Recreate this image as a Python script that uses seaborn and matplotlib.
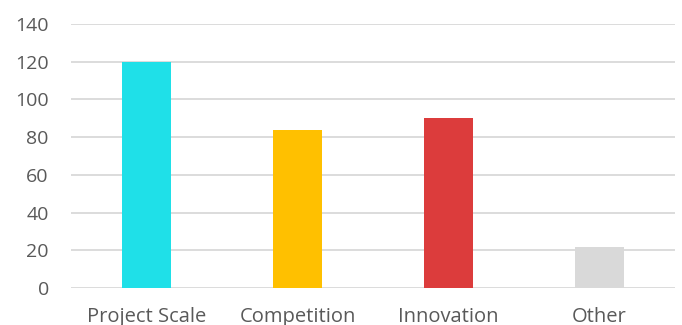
import pandas as pd
import matplotlib.pyplot as plt
import seaborn as sns

# ======= DATA =======
categories = ["Project Scale", "Competition", "Innovation", "Other"]
values = [120, 84, 90, 22]
bar_colors = ["#1FE0E8", "#FFC000", "#DC3C3C", "#D9D9D9"]
y_ticks = [0, 20, 40, 60, 80, 100, 120, 140]
# ====================

df = pd.DataFrame({"category": categories, "value": values})

sns.set_style("white")
plt.rcParams["font.family"] = ["Open Sans", "DejaVu Sans"]

fig = plt.figure(figsize=(6.82, 3.25), dpi=100)
ax = fig.add_axes([71 / 682, 1 - 288 / 325, 604 / 682, 264 / 325])

sns.barplot(
    data=df, x="category", y="value", hue="category",
    palette=bar_colors, width=0.32, legend=False, saturation=1,
    linewidth=0, ax=ax
)

# Light horizontal gridlines, Excel style
for t in y_ticks:
    ax.axhline(t, color="#D9D9D9", linewidth=1.3, zorder=0)

ax.set_ylim(0, 140)
ax.set_xlim(-0.5, len(categories) - 0.5)
ax.set_yticks(y_ticks)
ax.set_xlabel("")
ax.set_ylabel("")
ax.tick_params(axis="y", length=0, pad=16, labelsize=14, labelcolor="#595959")
ax.tick_params(axis="x", length=0, pad=14, labelsize=14.5, labelcolor="#595959")
sns.despine(ax=ax, left=True, bottom=True)

plt.savefig("out.png", dpi=100)
